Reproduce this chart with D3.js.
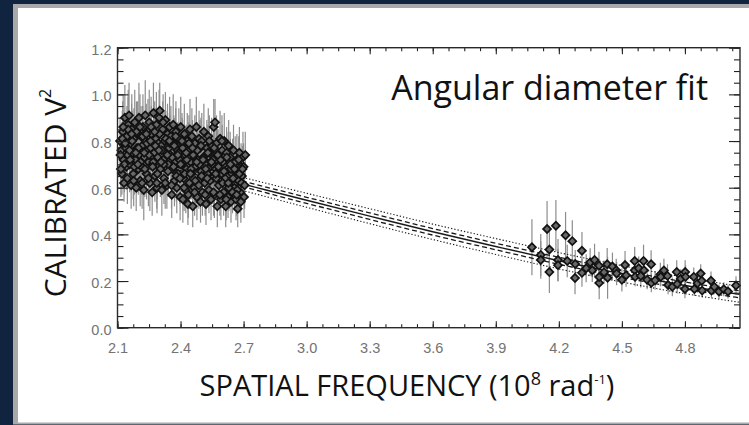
<!DOCTYPE html>
<html>
<head>
<meta charset="utf-8">
<script src="https://cdn.jsdelivr.net/npm/d3@7"></script>
<style>
  html, body { margin: 0; padding: 0; background: #10243f; }
  svg { display: block; }
</style>
</head>
<body>
<svg id="chart" width="749" height="425"></svg>
<script>
// short baselines (left cluster)
const shortFreq = [
  2.112, 2.118, 2.121, 2.125, 2.128, 2.131, 2.135, 2.138, 2.142, 2.145, 2.148, 2.151,
  2.155, 2.158, 2.162, 2.165, 2.168, 2.172, 2.175, 2.178, 2.182, 2.186, 2.189, 2.193, 2.196, 2.199,
  2.202, 2.205, 2.208, 2.212, 2.215, 2.218, 2.221, 2.225, 2.228, 2.232, 2.235, 2.238, 2.242, 2.245, 2.248,
  2.251, 2.254, 2.258, 2.261, 2.265, 2.268, 2.271, 2.275, 2.278, 2.282, 2.285, 2.288, 2.292, 2.295, 2.298,
  2.301, 2.304, 2.308, 2.311, 2.315, 2.318, 2.321, 2.325, 2.328, 2.332, 2.335, 2.338, 2.342, 2.345, 2.348,
  2.351, 2.354, 2.358, 2.361, 2.365, 2.368, 2.371, 2.375, 2.378, 2.382, 2.385, 2.388, 2.392, 2.395, 2.398,
  2.401, 2.404, 2.408, 2.411, 2.415, 2.418, 2.421, 2.425, 2.428, 2.432, 2.435, 2.438, 2.442, 2.445, 2.448,
  2.451, 2.454, 2.458, 2.461, 2.465, 2.468, 2.471, 2.475, 2.478, 2.482, 2.485, 2.488, 2.492, 2.495, 2.498,
  2.501, 2.504, 2.508, 2.511, 2.515, 2.518, 2.521, 2.525, 2.528, 2.532, 2.535, 2.538, 2.542, 2.545, 2.548,
  2.551, 2.554, 2.558, 2.561, 2.564, 2.568, 2.571, 2.575, 2.578, 2.582, 2.585, 2.588, 2.592, 2.595, 2.598,
  2.601, 2.605, 2.608, 2.612, 2.615, 2.619, 2.622, 2.626, 2.629, 2.633, 2.636, 2.640, 2.644, 2.648,
  2.652, 2.656, 2.660, 2.664, 2.668, 2.672, 2.676, 2.680, 2.684, 2.688, 2.692, 2.697, 2.702, 2.708,
  2.114, 2.123, 2.133, 2.140, 2.150, 2.160, 2.170, 2.180, 2.190, 2.200, 2.210, 2.220, 2.230, 2.240, 2.250,
  2.260, 2.270, 2.280, 2.290, 2.300, 2.310, 2.320, 2.330, 2.340, 2.350, 2.360, 2.370, 2.380, 2.390, 2.400,
  2.410, 2.420, 2.430, 2.440, 2.450, 2.460, 2.470, 2.480, 2.490, 2.500, 2.510, 2.520, 2.530, 2.540, 2.550,
  2.560, 2.570, 2.580, 2.590, 2.600, 2.610, 2.620, 2.630, 2.640, 2.650, 2.660, 2.670, 2.680, 2.690, 2.700,
  2.116, 2.127, 2.137, 2.147, 2.157, 2.167, 2.177, 2.187, 2.197, 2.207, 2.217, 2.227, 2.237, 2.247, 2.257,
  2.267, 2.277, 2.287, 2.297, 2.307, 2.317, 2.327, 2.337, 2.347, 2.357, 2.367, 2.377, 2.387, 2.397, 2.407,
  2.417, 2.427, 2.437, 2.447, 2.457, 2.467, 2.477, 2.487, 2.497, 2.507, 2.517, 2.527, 2.537, 2.547, 2.557,
  2.567, 2.577, 2.587, 2.597, 2.607, 2.617, 2.627, 2.637, 2.647, 2.657, 2.667, 2.677, 2.687, 2.695, 2.705
];
const shortV2 = [
  0.80, 0.76, 0.66, 0.84, 0.72, 0.62, 0.90, 0.78, 0.69, 0.82, 0.74, 0.87,
  0.91, 0.70, 0.79, 0.61, 0.85, 0.75, 0.66, 0.81, 0.88, 0.72, 0.60, 0.77, 0.83, 0.68,
  0.90, 0.74, 0.63, 0.82, 0.69, 0.78, 0.86, 0.59, 0.73, 0.91, 0.80, 0.66, 0.76, 0.84, 0.71,
  0.88, 0.62, 0.77, 0.83, 0.58, 0.70, 0.92, 0.75, 0.65, 0.81, 0.87, 0.60, 0.73, 0.79, 0.90,
  0.93, 0.68, 0.78, 0.59, 0.85, 0.72, 0.64, 0.80, 0.89, 0.75, 0.61, 0.83, 0.70, 0.77, 0.86,
  0.74, 0.82, 0.57, 0.68, 0.87, 0.79, 0.63, 0.71, 0.84, 0.60, 0.76, 0.66, 0.81, 0.72, 0.56,
  0.86, 0.70, 0.78, 0.55, 0.64, 0.83, 0.74, 0.59, 0.68, 0.80, 0.53, 0.76, 0.62, 0.85, 0.71,
  0.66, 0.82, 0.52, 0.74, 0.60, 0.79, 0.69, 0.86, 0.56, 0.72, 0.63, 0.81, 0.77, 0.54, 0.67,
  0.80, 0.58, 0.73, 0.84, 0.62, 0.70, 0.53, 0.77, 0.66, 0.82, 0.59, 0.75, 0.69, 0.55, 0.78,
  0.64, 0.72, 0.86, 0.57, 0.88, 0.68, 0.79, 0.52, 0.74, 0.61, 0.70, 0.81, 0.55, 0.66, 0.76,
  0.71, 0.58, 0.80, 0.64, 0.52, 0.75, 0.68, 0.56, 0.78, 0.61, 0.73, 0.54, 0.66, 0.70,
  0.76, 0.60, 0.67, 0.55, 0.72, 0.51, 0.63, 0.75, 0.58, 0.69, 0.65, 0.73, 0.56, 0.74,
  0.74, 0.81, 0.70, 0.77, 0.85, 0.72, 0.80, 0.69, 0.84, 0.77, 0.71, 0.82, 0.68, 0.79, 0.74,
  0.86, 0.71, 0.78, 0.66, 0.83, 0.76, 0.70, 0.81, 0.67, 0.79, 0.73, 0.78, 0.65, 0.75, 0.70,
  0.77, 0.66, 0.72, 0.79, 0.68, 0.74, 0.63, 0.76, 0.70, 0.65, 0.72, 0.68, 0.75, 0.63, 0.70,
  0.77, 0.64, 0.69, 0.72, 0.62, 0.67, 0.73, 0.60, 0.68, 0.64, 0.71, 0.59, 0.66, 0.62, 0.69,
  0.68, 0.86, 0.79, 0.64, 0.76, 0.83, 0.63, 0.75, 0.70, 0.86, 0.62, 0.75, 0.83, 0.64, 0.80,
  0.69, 0.84, 0.62, 0.76, 0.71, 0.88, 0.62, 0.74, 0.80, 0.61, 0.69, 0.82, 0.74, 0.64, 0.80,
  0.60, 0.75, 0.57, 0.66, 0.77, 0.58, 0.71, 0.61, 0.78, 0.72, 0.57, 0.64, 0.80, 0.71, 0.58,
  0.66, 0.74, 0.57, 0.80, 0.67, 0.55, 0.62, 0.70, 0.58, 0.68, 0.57, 0.72, 0.54, 0.68, 0.61
];
const shortErr = [
  0.10, 0.12, 0.09, 0.13, 0.11, 0.08, 0.14, 0.12, 0.10, 0.13, 0.11, 0.15,
  0.14, 0.12, 0.13, 0.10, 0.15, 0.12, 0.11, 0.13, 0.14, 0.12, 0.10, 0.13, 0.14, 0.11,
  0.15, 0.12, 0.11, 0.13, 0.12, 0.13, 0.14, 0.13, 0.12, 0.15, 0.13, 0.11, 0.12, 0.14, 0.12,
  0.14, 0.12, 0.13, 0.12, 0.10, 0.12, 0.13, 0.12, 0.11, 0.13, 0.14, 0.11, 0.12, 0.13, 0.12,
  0.12, 0.12, 0.13, 0.11, 0.12, 0.12, 0.11, 0.13, 0.12, 0.12, 0.10, 0.13, 0.12, 0.12, 0.13,
  0.12, 0.13, 0.10, 0.12, 0.13, 0.12, 0.11, 0.12, 0.13, 0.11, 0.12, 0.11, 0.13, 0.12, 0.10,
  0.13, 0.12, 0.12, 0.10, 0.11, 0.13, 0.12, 0.10, 0.11, 0.12, 0.09, 0.12, 0.11, 0.13, 0.12,
  0.11, 0.12, 0.09, 0.12, 0.10, 0.12, 0.11, 0.13, 0.10, 0.12, 0.11, 0.12, 0.12, 0.09, 0.11,
  0.12, 0.10, 0.11, 0.12, 0.10, 0.11, 0.09, 0.12, 0.11, 0.12, 0.10, 0.11, 0.11, 0.09, 0.12,
  0.11, 0.11, 0.12, 0.10, 0.10, 0.11, 0.12, 0.09, 0.11, 0.10, 0.11, 0.12, 0.09, 0.10, 0.11,
  0.11, 0.10, 0.12, 0.10, 0.09, 0.11, 0.10, 0.09, 0.11, 0.10, 0.11, 0.09, 0.10, 0.11,
  0.11, 0.10, 0.10, 0.09, 0.11, 0.08, 0.10, 0.11, 0.09, 0.10, 0.10, 0.11, 0.09, 0.10,
  0.13, 0.12, 0.12, 0.13, 0.14, 0.12, 0.13, 0.12, 0.13, 0.12, 0.12, 0.13, 0.12, 0.13, 0.12,
  0.13, 0.12, 0.12, 0.11, 0.12, 0.12, 0.11, 0.12, 0.11, 0.12, 0.12, 0.12, 0.11, 0.12, 0.11,
  0.12, 0.11, 0.12, 0.12, 0.11, 0.12, 0.10, 0.12, 0.11, 0.10, 0.11, 0.11, 0.12, 0.10, 0.11,
  0.12, 0.10, 0.11, 0.11, 0.10, 0.10, 0.11, 0.10, 0.11, 0.10, 0.11, 0.09, 0.10, 0.10, 0.10,
  0.12, 0.14, 0.13, 0.11, 0.13, 0.13, 0.11, 0.12, 0.12, 0.14, 0.11, 0.12, 0.13, 0.12, 0.13,
  0.12, 0.13, 0.11, 0.12, 0.12, 0.12, 0.11, 0.12, 0.12, 0.10, 0.11, 0.12, 0.12, 0.11, 0.12,
  0.10, 0.12, 0.10, 0.11, 0.12, 0.10, 0.11, 0.10, 0.12, 0.11, 0.09, 0.10, 0.11, 0.11, 0.10,
  0.10, 0.11, 0.09, 0.11, 0.10, 0.09, 0.10, 0.11, 0.09, 0.10, 0.09, 0.10, 0.09, 0.10, 0.10
];

// long baselines (right cluster)
const longFreq = [
  4.072, 4.114, 4.114, 4.144, 4.155, 4.155, 4.186, 4.196, 4.196, 4.232, 4.240, 4.264, 4.277, 4.278,
  4.310, 4.310, 4.330, 4.349, 4.359, 4.370, 4.391, 4.392, 4.392, 4.415, 4.430, 4.432, 4.455, 4.473,
  4.475, 4.500, 4.515, 4.520, 4.561, 4.561, 4.563, 4.580, 4.590, 4.603, 4.605, 4.620, 4.639, 4.640,
  4.658, 4.683, 4.685, 4.700, 4.717, 4.720, 4.740, 4.761, 4.763, 4.780, 4.800, 4.801, 4.803, 4.842,
  4.845, 4.860, 4.875, 4.880, 4.882, 4.924, 4.926, 4.940, 4.962, 4.985, 5.005, 5.043
];
const longV2 = [
  0.345, 0.312, 0.290, 0.423, 0.335, 0.239, 0.437, 0.290, 0.268, 0.396, 0.286, 0.371, 0.213, 0.273,
  0.330, 0.235, 0.255, 0.280, 0.246, 0.290, 0.266, 0.192, 0.217, 0.238, 0.272, 0.214, 0.262, 0.246,
  0.232, 0.205, 0.269, 0.225, 0.286, 0.246, 0.218, 0.255, 0.222, 0.286, 0.246, 0.205, 0.272, 0.192,
  0.203, 0.228, 0.218, 0.245, 0.222, 0.183, 0.175, 0.239, 0.187, 0.210, 0.166, 0.239, 0.218, 0.218,
  0.166, 0.190, 0.232, 0.201, 0.159, 0.201, 0.159, 0.175, 0.155, 0.165, 0.155, 0.181
];
const longErr = [
  0.12, 0.09, 0.08, 0.12, 0.10, 0.09, 0.11, 0.09, 0.07, 0.10, 0.07, 0.09, 0.07, 0.06,
  0.08, 0.06, 0.06, 0.06, 0.05, 0.07, 0.06, 0.07, 0.05, 0.05, 0.07, 0.09, 0.06, 0.05,
  0.05, 0.05, 0.06, 0.05, 0.06, 0.05, 0.04, 0.05, 0.05, 0.07, 0.05, 0.04, 0.06, 0.04,
  0.04, 0.05, 0.04, 0.05, 0.05, 0.04, 0.04, 0.05, 0.04, 0.04, 0.04, 0.05, 0.05, 0.04,
  0.03, 0.04, 0.04, 0.04, 0.03, 0.04, 0.03, 0.03, 0.03, 0.03, 0.03, 0.04
];

// uniform disk fit
const fitFreq   = [2.1, 2.4, 2.7, 3.0, 3.3, 3.6, 3.9, 4.2, 4.5, 4.8, 5.06];
const fitV2     = [0.750, 0.684, 0.615, 0.546, 0.478, 0.411, 0.348, 0.287, 0.231, 0.181, 0.143];
const fitDashHi = [0.759, 0.695, 0.627, 0.559, 0.492, 0.425, 0.362, 0.302, 0.246, 0.196, 0.158];
const fitDashLo = [0.741, 0.673, 0.603, 0.533, 0.464, 0.397, 0.334, 0.272, 0.216, 0.166, 0.128];
const fitDotHi  = [0.772, 0.709, 0.643, 0.576, 0.510, 0.444, 0.382, 0.322, 0.266, 0.216, 0.177];
const fitDotLo  = [0.728, 0.659, 0.587, 0.516, 0.446, 0.378, 0.314, 0.252, 0.196, 0.146, 0.109];

const xTicks = [2.1, 2.4, 2.7, 3.0, 3.3, 3.6, 3.9, 4.2, 4.5, 4.8];
const yTicks = [0.0, 0.2, 0.4, 0.6, 0.8, 1.0, 1.2];

const W = 749, H = 425;
const plot = { left: 117.5, right: 740, top: 47.7, bottom: 327.7 };

const svg = d3.select("#chart");

// panel
svg.append("rect").attr("x", 13).attr("y", 4).attr("width", W - 13).attr("height", 420.5).attr("fill", "#a9a9a9");
svg.append("rect").attr("x", 18).attr("y", 8).attr("width", W - 18).attr("height", 414.5).attr("fill", "#ffffff");

const x = d3.scaleLinear().domain([2.1, 5.062]).range([plot.left, plot.right]);
const y = d3.scaleLinear().domain([0, 1.2]).range([plot.bottom, plot.top]);

const shortData = shortFreq.map((f, i) => ({ f: f, v: shortV2[i], e: shortErr[i] }));
const longData = longFreq.map((f, i) => ({ f: f, v: longV2[i], e: longErr[i] }));
const allData = shortData.concat(longData);

const g = svg.append("g");

// error bars
g.selectAll(".err")
  .data(allData)
  .join("line")
  .attr("class", "err")
  .attr("x1", d => x(d.f))
  .attr("x2", d => x(d.f))
  .attr("y1", d => y(d.v - d.e))
  .attr("y2", d => y(d.v + d.e))
  .attr("stroke", "#8d8d8d")
  .attr("stroke-width", 1.2);

// fit curves
const fitLine = d3.line().x(d => x(d[0])).y(d => y(d[1])).curve(d3.curveMonotoneX);
const curves = [
  { vals: fitDotHi, dash: "1.3,2", w: 1.1 },
  { vals: fitDotLo, dash: "1.3,2", w: 1.1 },
  { vals: fitDashHi, dash: "5,3", w: 1.3 },
  { vals: fitDashLo, dash: "5,3", w: 1.3 },
  { vals: fitV2, dash: null, w: 1.4 }
];
curves.forEach(c => {
  g.append("path")
    .datum(fitFreq.map((f, i) => [f, c.vals[i]]))
    .attr("d", fitLine)
    .attr("fill", "none")
    .attr("stroke", "#1a1a1a")
    .attr("stroke-width", c.w)
    .attr("stroke-dasharray", c.dash);
});

// diamonds
const diamond = d3.symbol().type(d3.symbolSquare).size(32);
g.selectAll(".pt")
  .data(allData)
  .join("path")
  .attr("class", "pt")
  .attr("d", diamond)
  .attr("transform", d => `translate(${x(d.f)},${y(d.v)}) rotate(45)`)
  .attr("fill", "#686868")
  .attr("stroke", "#121212")
  .attr("stroke-width", 1.7);

// axes, IDL style ticks pointing in
const xMinor = d3.range(0, 40).map(i => 2.1 + i * 0.075).filter(v => v < 5.06);
const yMinor = d3.range(0, 25).map(i => i * 0.05);

function styleAxis(sel) {
  sel.select(".domain").remove();
  sel.selectAll(".tick line").attr("stroke", "#222").attr("stroke-width", 1.1);
  sel.selectAll(".tick text")
    .attr("fill", "#737373")
    .style("font-family", "'Liberation Sans', Arial, sans-serif")
    .style("font-size", "14.5px");
}

svg.append("g").attr("transform", `translate(0,${plot.bottom})`)
  .call(d3.axisBottom(x).tickValues(xMinor).tickSizeInner(-3.5).tickSizeOuter(0).tickFormat(""))
  .call(styleAxis);
svg.append("g").attr("transform", `translate(0,${plot.bottom})`)
  .call(d3.axisBottom(x).tickValues(xTicks).tickSizeInner(-6.5).tickSizeOuter(0).tickPadding(15).tickFormat(d3.format(".1f")))
  .call(styleAxis);
svg.append("g").attr("transform", `translate(0,${plot.top})`)
  .call(d3.axisTop(x).tickValues(xMinor).tickSizeInner(-3.5).tickSizeOuter(0).tickFormat(""))
  .call(styleAxis);
svg.append("g").attr("transform", `translate(0,${plot.top})`)
  .call(d3.axisTop(x).tickValues(xTicks).tickSizeInner(-6.5).tickSizeOuter(0).tickFormat(""))
  .call(styleAxis);

svg.append("g").attr("transform", `translate(${plot.left},0)`)
  .call(d3.axisLeft(y).tickValues(yMinor).tickSizeInner(-6).tickSizeOuter(0).tickFormat(""))
  .call(styleAxis);
const yAx = svg.append("g").attr("transform", `translate(${plot.left},0)`)
  .call(d3.axisLeft(y).tickValues(yTicks).tickSizeInner(-11).tickSizeOuter(0).tickPadding(6).tickFormat(d3.format(".1f")))
  .call(styleAxis);
yAx.selectAll(".tick text").attr("dy", "0.45em");
svg.append("g").attr("transform", `translate(${plot.right},0)`)
  .call(d3.axisRight(y).tickValues(yMinor).tickSizeInner(-6).tickSizeOuter(0).tickFormat(""))
  .call(styleAxis);
svg.append("g").attr("transform", `translate(${plot.right},0)`)
  .call(d3.axisRight(y).tickValues(yTicks).tickSizeInner(-11).tickSizeOuter(0).tickFormat(""))
  .call(styleAxis);

// frame
svg.append("rect")
  .attr("x", plot.left).attr("y", plot.top)
  .attr("width", plot.right - plot.left).attr("height", plot.bottom - plot.top)
  .attr("fill", "none").attr("stroke", "#2a2a2a").attr("stroke-width", 1.4);

// titles
const titleFont = "'Open Sans', 'Noto Sans', sans-serif";

const yTitle = svg.append("text")
  .attr("text-anchor", "middle")
  .attr("transform", "translate(66,193) rotate(-90)")
  .style("font-family", titleFont).style("font-size", "30px").attr("fill", "#111");
yTitle.append("tspan").text("CALIBRATED V");
yTitle.append("tspan").attr("dy", "-15").style("font-size", "16px").text("2");

const xTitle = svg.append("text")
  .attr("text-anchor", "middle")
  .attr("transform", "translate(407,396)")
  .style("font-family", titleFont).style("font-size", "29px").attr("fill", "#111");
xTitle.append("tspan").text("SPATIAL FREQUENCY (10");
xTitle.append("tspan").attr("dy", "-11").style("font-size", "18px").text("8");
xTitle.append("tspan").attr("dy", "11").text(" rad");
xTitle.append("tspan").attr("dy", "-12").style("font-size", "13px").text("-1");
xTitle.append("tspan").attr("dy", "12").text(")");

svg.append("text")
  .attr("transform", "translate(708,100)")
  .attr("text-anchor", "end")
  .style("font-family", titleFont).style("font-size", "34px").attr("fill", "#111")
  .text("Angular diameter fit");
</script>
</body>
</html>
